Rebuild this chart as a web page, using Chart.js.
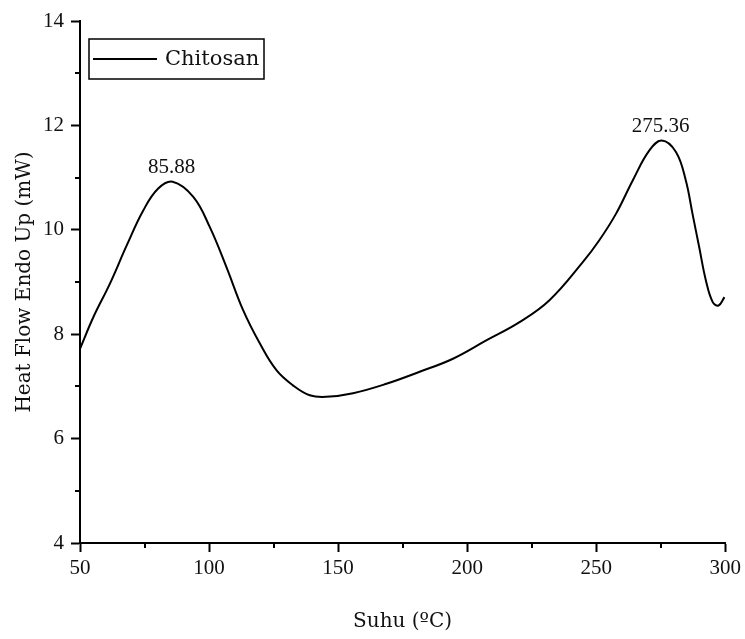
<!DOCTYPE html>
<html>
<head>
<meta charset="utf-8">
<script src="https://cdn.jsdelivr.net/npm/chart.js@4.4.0/dist/chart.umd.min.js"></script>
<style>
  html, body { margin: 0; padding: 0; background: #fff; }
  #wrap { width: 745px; height: 639px; }
</style>
</head>
<body>
<div id="wrap"><canvas id="myChart" width="745" height="639"></canvas></div>
<script>
// temperature (°C) and heat flow (mW)
const temps = [50, 55.2, 61.6, 68.1, 74.5, 80.3, 85.9, 93.9, 100.3, 106.7, 113.2, 119.7, 126.1, 132.5, 139, 145.4,
  155.8, 168.7, 181.6, 194.5, 207.4, 220.3, 231.9, 244.8, 251.2, 257.7, 264.2, 270.6, 275.4, 280.9, 284.7,
  287.3, 289.9, 292.5, 295.1, 297.4, 299.7];
const heatFlow = [7.72, 8.33, 8.97, 9.70, 10.37, 10.79, 10.92, 10.63, 10.05, 9.29, 8.46, 7.82, 7.31, 7.02, 6.83, 6.80,
  6.87, 7.05, 7.28, 7.53, 7.88, 8.23, 8.65, 9.38, 9.80, 10.31, 10.95, 11.52, 11.71, 11.49, 10.95,
  10.31, 9.67, 9.03, 8.62, 8.55, 8.71];

// peak annotations
const peakTemps = [85.88, 275.36];
const peakValues = [10.92, 11.71];
const peakLabels = ['85.88', '275.36'];

const xTicks = [50, 100, 150, 200, 250, 300];
const yTicks = [4, 6, 8, 10, 12, 14];
const xMinor = [75, 125, 175, 225, 275];
const yMinor = [5, 7, 9, 11, 13];

const seriesName = 'Chitosan';
const xTitle = 'Suhu (ºC)';
const yTitle = 'Heat Flow Endo Up (mW)';

const numFont = '21px "Liberation Serif"';
const tickFont = { family: 'Liberation Serif', size: 21 };
const textFont = { family: 'DejaVu Serif', size: 20 };

// minor ticks, peak labels and the boxed legend
const extras = {
    id: 'extras',
    afterDraw(chart) {
        const ctx = chart.ctx;
        const xs = chart.scales.x;
        const ys = chart.scales.y;
        const area = chart.chartArea;

        ctx.save();
        ctx.strokeStyle = '#000';
        ctx.lineWidth = 2;
        xMinor.forEach(v => {
            const px = Math.round(xs.getPixelForValue(v));
            ctx.beginPath();
            ctx.moveTo(px, area.bottom);
            ctx.lineTo(px, area.bottom + 5);
            ctx.stroke();
        });
        yMinor.forEach(v => {
            const py = Math.round(ys.getPixelForValue(v));
            ctx.beginPath();
            ctx.moveTo(area.left, py);
            ctx.lineTo(area.left - 5, py);
            ctx.stroke();
        });

        ctx.fillStyle = '#111';
        ctx.font = numFont;
        ctx.textAlign = 'center';
        ctx.textBaseline = 'alphabetic';
        peakTemps.forEach((t, i) => {
            const px = xs.getPixelForValue(t);
            const py = ys.getPixelForValue(peakValues[i]);
            ctx.fillText(peakLabels[i], px - 1, py - 9);
        });

        // legend
        const bx = area.left + 9, by = area.top + 18, bw = 175, bh = 40;
        ctx.lineWidth = 1.5;
        ctx.strokeStyle = '#000';
        ctx.strokeRect(bx, by, bw, bh);
        ctx.lineWidth = 2;
        ctx.beginPath();
        ctx.moveTo(bx + 4, by + bh / 2);
        ctx.lineTo(bx + 68, by + bh / 2);
        ctx.stroke();
        ctx.font = '21px "DejaVu Serif"';
        ctx.textAlign = 'left';
        ctx.textBaseline = 'middle';
        ctx.fillText(seriesName, bx + 76, by + bh / 2 + 1);
        ctx.restore();
    }
};

const ctx = document.getElementById('myChart').getContext('2d');
new Chart(ctx, {
    type: 'line',
    data: {
        datasets: [{
            label: seriesName,
            data: temps.map((t, i) => ({ x: t, y: heatFlow[i] })),
            borderColor: '#000',
            borderWidth: 2,
            pointRadius: 0,
            fill: false,
            tension: 0.4
        }]
    },
    options: {
        responsive: false,
        animation: false,
        layout: { padding: { top: 21, right: 19, left: 0, bottom: 0 } },
        plugins: {
            legend: { display: false },
            tooltip: { enabled: false }
        },
        scales: {
            x: {
                type: 'linear',
                min: 50,
                max: 300,
                afterBuildTicks: s => { s.ticks = xTicks.map(v => ({ value: v })); },
                afterFit: s => { s.height = 96; },
                border: { display: true, color: '#000', width: 2 },
                grid: { drawOnChartArea: false, drawTicks: true, tickLength: 9, tickWidth: 2, color: '#000' },
                ticks: { color: '#111', font: tickFont, padding: 4, maxRotation: 0 },
                title: { display: true, text: xTitle, color: '#111', font: textFont, padding: { top: 0, bottom: 5 } }
            },
            y: {
                min: 4,
                max: 14,
                afterBuildTicks: s => { s.ticks = yTicks.map(v => ({ value: v })); },
                afterFit: s => { s.width = 80; },
                border: { display: true, color: '#000', width: 2 },
                grid: { drawOnChartArea: false, drawTicks: true, tickLength: 9, tickWidth: 2, color: '#000' },
                ticks: { color: '#111', font: tickFont, padding: 7 },
                title: { display: true, text: yTitle, color: '#111', font: textFont, padding: { top: 13, bottom: 0 } }
            }
        }
    },
    plugins: [extras]
});
</script>
</body>
</html>
